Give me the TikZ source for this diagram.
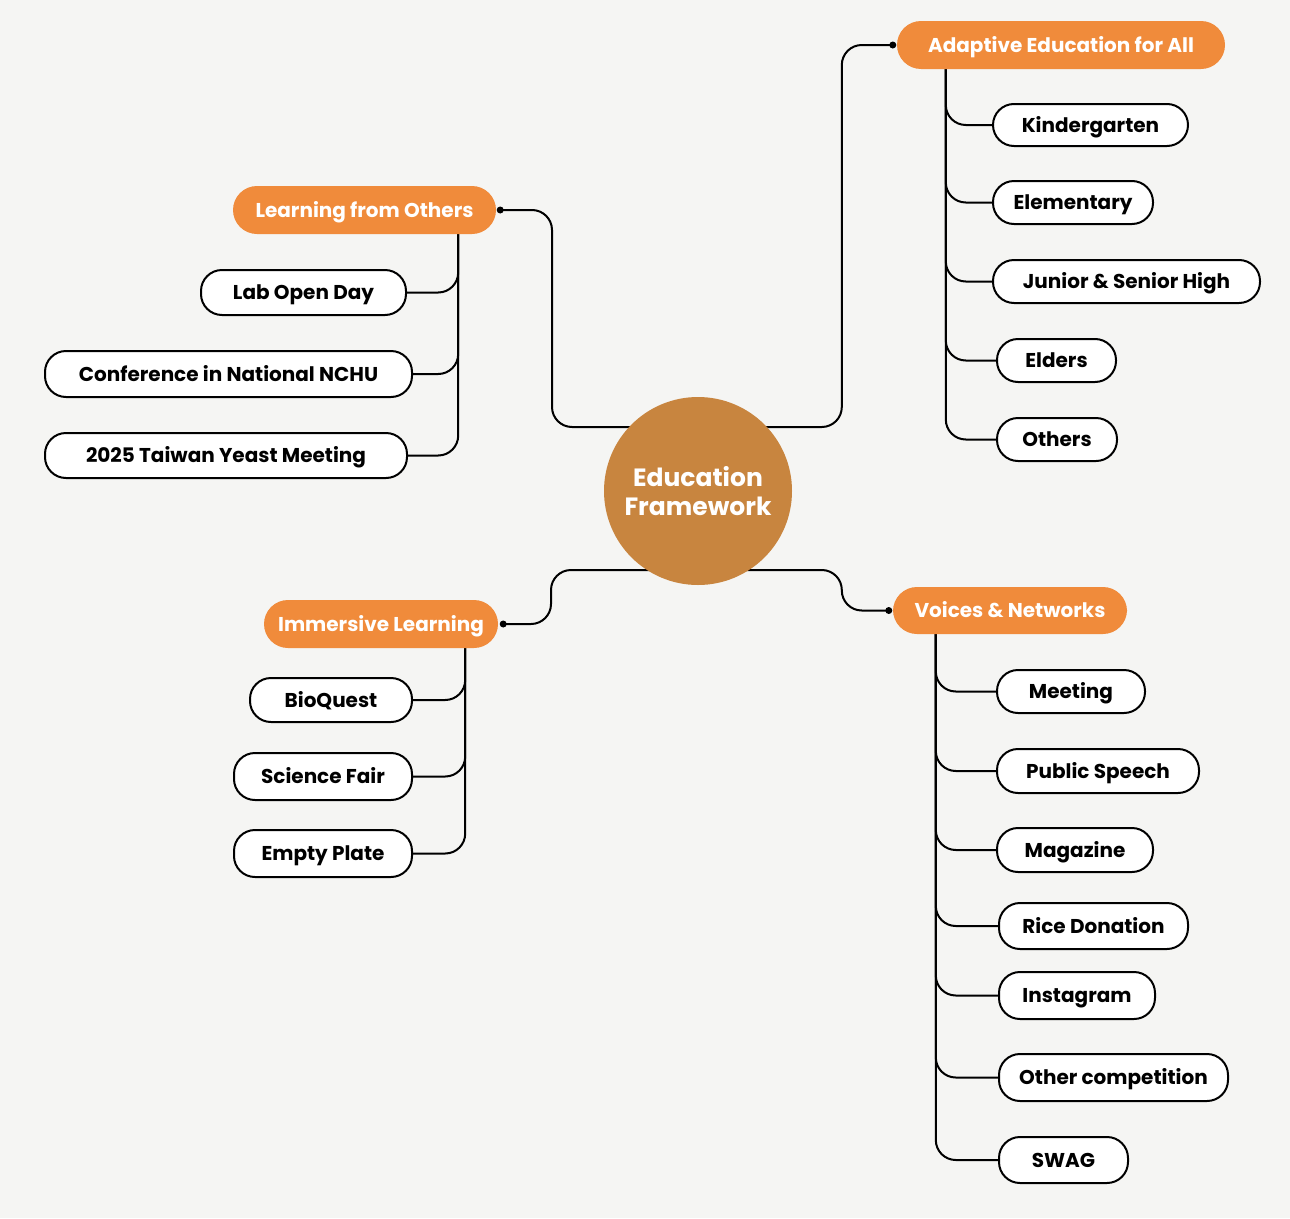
\documentclass[tikz,border=0pt]{standalone}
\usepackage{fontspec}
\setmainfont{Poppins}
\usetikzlibrary{backgrounds,calc}
\definecolor{bg}{HTML}{F5F5F3}
\definecolor{org}{HTML}{F08B3B}
\definecolor{ctrc}{HTML}{C8853F}
\tikzset{
  mainbox/.style={fill=org, rounded corners=24, text=white, font=\bfseries\fontsize{20}{23}\selectfont, minimum height=48, inner sep=0, text height=18, text depth=4},
  subbox/.style={draw=black, line width=2, fill=white, rounded corners=21, font=\bfseries\fontsize{20}{23}\selectfont, minimum height=44, inner sep=0, text height=18, text depth=4},
  conn/.style={line width=2, draw=black, rounded corners=20},
  jdot/.style={circle, fill=black, inner sep=0, minimum size=7}
}
\begin{document}
\begin{tikzpicture}[x=1pt,y=-1pt]
\useasboundingbox (0,0) rectangle (1290,1218);
% centre
\node[circle, fill=ctrc, minimum size=188, inner sep=0, text=white, align=center, font=\bfseries\fontsize{25}{29}\selectfont] (ctr) at (698,491) {Education\\Framework};
% main topics
\node[mainbox, minimum width=263] (lfo) at (364.5,210) {Learning from Others};
\node[mainbox, minimum width=328] (aea) at (1061,45) {Adaptive Education for All};
\node[mainbox, minimum width=234] (imm) at (381,624) {Immersive Learning};
\node[mainbox, minimum width=234, minimum height=47] (vn) at (1010,610.5) {Voices \& Networks};
% adaptive education children
\node[subbox, minimum width=195, minimum height=42] (kin) at (1090.5,125) {Kindergarten};
\node[subbox, minimum width=160, minimum height=43] (ele) at (1073,202.5) {Elementary};
\node[subbox, minimum width=267, minimum height=43] (jsh) at (1126.5,281.5) {Junior \& Senior High};
\node[subbox, minimum width=119, minimum height=43] (eld) at (1056.5,360.5) {Elders};
\node[subbox, minimum width=120, minimum height=43] (oth) at (1057,439.5) {Others};
% learning from others children
\node[subbox, minimum width=205, minimum height=45] (lod) at (303.5,292.5) {Lab Open Day};
\node[subbox, minimum width=367, minimum height=46] (cnf) at (228.5,374) {Conference in National NCHU};
\node[subbox, minimum width=362, minimum height=45] (tym) at (226,455.5) {2025 Taiwan Yeast Meeting};
% immersive children
\node[subbox, minimum width=162, minimum height=44] (bio) at (331,700) {BioQuest};
\node[subbox, minimum width=178, minimum height=47] (sci) at (323,776.5) {Science Fair};
\node[subbox, minimum width=178, minimum height=47] (emp) at (323,853.5) {Empty Plate};
% voices children
\node[subbox, minimum width=148, minimum height=43] (mee) at (1071,691.5) {Meeting};
\node[subbox, minimum width=202, minimum height=44] (pub) at (1098,771) {Public Speech};
\node[subbox, minimum width=156, minimum height=44] (mag) at (1075,850) {Magazine};
\node[subbox, minimum width=189, minimum height=46] (ric) at (1093.5,926) {Rice Donation};
\node[subbox, minimum width=156, minimum height=47] (ins) at (1077,995.5) {Instagram};
\node[subbox, minimum width=229, minimum height=47] (ocp) at (1113.5,1077.5) {Other competition};
\node[subbox, minimum width=129, minimum height=46] (swg) at (1063.5,1160) {SWAG};
% junction points
\coordinate (lfod) at ($(lfo.east)+(4,0)$);
\coordinate (aed) at ($(aea.west)+(-4,0)$);
\coordinate (vnd) at ($(vn.west)+(-4,0)$);
\coordinate (imd) at ($(imm.east)+(5,0)$);
\coordinate (lfot) at ($(lfo.south east)+(-38,0)$);
\coordinate (aet) at ($(aea.south west)+(49,0)$);
\coordinate (imt) at ($(imm.south east)+(-33,0)$);
\coordinate (vnt) at ($(vn.south west)+(43,0)$);
\begin{pgfonlayer}{background}
\fill[bg] (0,0) rectangle (1290,1218);
\draw[conn] (lfod) -| ($(ctr.center)+(-146,-64)$) -- ($(ctr.center)+(0,-64)$);
\draw[conn] ($(ctr.center)+(0,-64)$) -| ($(aed)+(-51,0)$) -- (aed);
\draw[conn] ($(ctr.center)+(0,79)$) -| ($(vnd)+(-47,0)$) -- (vnd);
\draw[conn] (imd) -| ($(ctr.center)+(-147,79)$) -- ($(ctr.center)+(0,79)$);
\foreach \c in {kin,ele,jsh,eld,oth} \draw[conn] (aet) |- (\c.west);
\foreach \c in {lod,cnf,tym} \draw[conn] (lfot) |- (\c.east);
\foreach \c in {bio,sci,emp} \draw[conn] (imt) |- (\c.east);
\foreach \c in {mee,pub,mag,ric,ins,ocp,swg} \draw[conn] (vnt) |- (\c.west);
\end{pgfonlayer}
\foreach \d in {lfod,aed,vnd,imd} \node[jdot] at (\d) {};
\end{tikzpicture}
\end{document}
